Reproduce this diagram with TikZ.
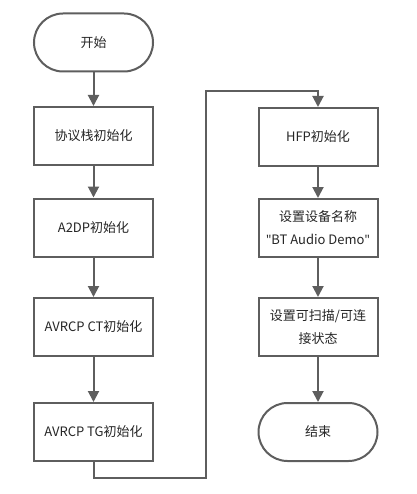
\documentclass[tikz,border=0pt]{standalone}
\usepackage{fontspec}
\setmainfont{Noto Sans CJK SC}
\newfontfamily\lat[Ligatures=NoCommon]{Noto Sans}
\usetikzlibrary{arrows.meta,positioning}
\definecolor{lc}{HTML}{5E5E5E}
\definecolor{tc}{HTML}{262626}
\tikzset{
  box/.style={draw=lc,line width=2pt,fill=white,minimum width=119pt,minimum height=58pt,inner sep=0pt,align=center,font=\fontsize{13}{23}\selectfont,text=tc},
  term/.style={box,rounded corners=29pt},
  arr/.style={draw=lc,line width=2pt,-{Triangle[width=11pt,length=11pt]}},
}
\begin{document}
\begin{tikzpicture}[x=1pt,y=-1pt]
\useasboundingbox (0,0) rectangle (416,494);
\node[term] (s) at (93.5,42.5) {开始};
\node[box] (b1) at (93.5,136) {协议栈初始化};
\node[box] (b2) at (93.5,227.5) {A2DP初始化};
\node[box] (b3) at (93.5,327) {AVRCP CT初始化};
\node[box] (b4) at (93.5,432) {AVRCP TG初始化};
\node[box] (r1) at (318,137) {HFP初始化};
\node[box] (r2) at (318,228) {设置设备名称\\{\lat\symbol{34}}BT Audio Demo{\lat\symbol{34}}};
\node[box] (r3) at (318,327) {设置可扫描/可连\\接状态};
\node[term] (e) at (318,432) {结束};
\coordinate (c1) at (93.5,478);
\coordinate (c2) at (206,478);
\coordinate (c3) at (206,91);
\coordinate (c4) at (318,91);
\draw[arr] (s) -- (b1);
\draw[arr] (b1) -- (b2);
\draw[arr] (b2) -- (b3);
\draw[arr] (b3) -- (b4);
\draw[arr] (b4.south) -- (c1) -- (c2) -- (c3) -- (c4) -- (r1.north);
\draw[arr] (r1) -- (r2);
\draw[arr] (r2) -- (r3);
\draw[arr] (r3) -- (e);
\end{tikzpicture}
\end{document}
